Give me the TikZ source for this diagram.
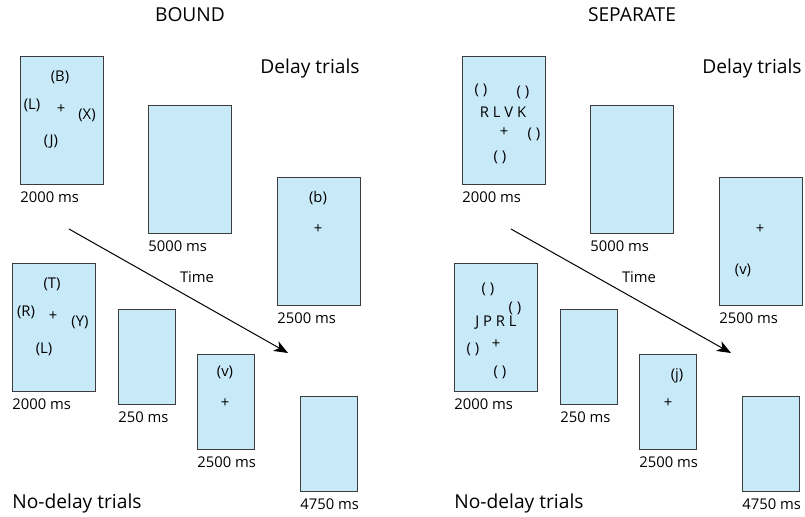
\documentclass[tikz,border=0pt]{standalone}
\usepackage{fontspec}
\setmainfont{Open Sans}
\usepackage{xcolor}
\usepackage{tikz}
\usetikzlibrary{positioning, arrows.meta}
\definecolor{screenblue}{HTML}{C8E9F8}
\definecolor{screenedge}{HTML}{3C3C3C}

\begin{document}
\begin{tikzpicture}[
    x=0.5pt, y=-0.5pt,
    screen/.style={draw=screenedge, fill=screenblue, line width=0.6pt, inner sep=0pt, anchor=north west},
    bigscreen/.style={screen, minimum width=41.5pt, minimum height=64pt},
    smallscreen/.style={screen, minimum width=28.5pt, minimum height=47.5pt},
    stim/.style={inner sep=0pt, font=\fontsize{7.4}{8}\selectfont},
    dur/.style={inner sep=0pt, font=\fontsize{7.4}{8}\selectfont, below right=3.2pt and 0pt},
    head/.style={inner sep=0pt, font=\fontsize{9.6}{11}\selectfont},
    arr/.style={-{Stealth[length=7pt, width=5.5pt, inset=2pt]}, line width=0.5pt}
]
\useasboundingbox (0,0) rectangle (805,516);

\node[head] (bound) at (190,15) {BOUND};
\node[head] (separate) at (632,15) {SEPARATE};

\node[bigscreen] (bd1) at (20,56) {};
\node[bigscreen] (bd2) at (148,105) {};
\node[bigscreen] (bd3) at (277,177) {};
\node[dur] (bd1t) at (bd1.south west) {2000 ms};
\node[dur] (bd2t) at (bd2.south west) {5000 ms};
\node[dur] (bd3t) at (bd3.south west) {2500 ms};
\node[head, anchor=east] (bdlab) at (360,69) {Delay trials};
\node[stim] (bd1b) at (60,77) {(B)};
\node[stim] (bd1l) at (32,105) {(L)};
\node[stim] (bd1f) at (61,109) {+};
\node[stim] (bd1x) at (87,115) {(X)};
\node[stim] (bd1j) at (51,142) {(J)};
\node[stim] (bd3p) at (318,198) {(b)};
\node[stim] (bd3f) at (318,229) {+};

\node[bigscreen] (bn1) at (12,263) {};
\node[smallscreen] (bn2) at (118,309) {};
\node[smallscreen] (bn3) at (197,354) {};
\node[smallscreen] (bn4) at (300,396) {};
\node[dur] (bn1t) at (bn1.south west) {2000 ms};
\node[dur] (bn2t) at (bn2.south west) {250 ms};
\node[dur] (bn3t) at (bn3.south west) {2500 ms};
\node[dur] (bn4t) at (bn4.south west) {4750 ms};
\node[head, anchor=west] (bnlab) at (12,504) {No-delay trials};
\node[stim] (bn1t1) at (52,284) {(T)};
\node[stim] (bn1r) at (26,312) {(R)};
\node[stim] (bn1f) at (53,316) {+};
\node[stim] (bn1y) at (80,322) {(Y)};
\node[stim] (bn1l) at (44,349) {(L)};
\node[stim] (bn3p) at (225,372) {(v)};
\node[stim] (bn3f) at (225,403) {+};

\coordinate (btail) at (69,229);
\coordinate (bhead) at (288,353);
\draw[arr] (btail) -- (bhead);
\node[stim] (btime) at (197,277) {Time};

\node[bigscreen] (sd1) at (462,56) {};
\node[bigscreen] (sd2) at (590,105) {};
\node[bigscreen] (sd3) at (719,177) {};
\node[dur] (sd1t) at (sd1.south west) {2000 ms};
\node[dur] (sd2t) at (sd2.south west) {5000 ms};
\node[dur] (sd3t) at (sd3.south west) {2500 ms};
\node[head, anchor=east] (sdlab) at (802,69) {Delay trials};
\node[stim] (sd1c1) at (481,90) {( )};
\node[stim] (sd1c2) at (523,92) {( )};
\node[stim] (sd1w) at (503,112) {R L V K};
\node[stim] (sd1f) at (504,132) {+};
\node[stim] (sd1c3) at (534,134) {( )};
\node[stim] (sd1c4) at (500,157) {( )};
\node[stim] (sd3f) at (760,229) {+};
\node[stim] (sd3p) at (743,270) {(v)};

\node[bigscreen] (sn1) at (454,263) {};
\node[smallscreen] (sn2) at (560,309) {};
\node[smallscreen] (sn3) at (639,354) {};
\node[smallscreen] (sn4) at (742,396) {};
\node[dur] (sn1t) at (sn1.south west) {2000 ms};
\node[dur] (sn2t) at (sn2.south west) {250 ms};
\node[dur] (sn3t) at (sn3.south west) {2500 ms};
\node[dur] (sn4t) at (sn4.south west) {4750 ms};
\node[head, anchor=west] (snlab) at (454,504) {No-delay trials};
\node[stim] (sn1c1) at (488,289) {( )};
\node[stim] (sn1c2) at (515,308) {( )};
\node[stim] (sn1w) at (496,323) {J P R L};
\node[stim] (sn1f) at (496,344) {+};
\node[stim] (sn1c3) at (473,349) {( )};
\node[stim] (sn1c4) at (500,372) {( )};
\node[stim] (sn3p) at (677,376) {(j)};
\node[stim] (sn3f) at (668,403) {+};

\coordinate (stail) at (511,229);
\coordinate (shead) at (731,353);
\draw[arr] (stail) -- (shead);
\node[stim] (stime) at (639,277) {Time};
\end{tikzpicture}
\end{document}
